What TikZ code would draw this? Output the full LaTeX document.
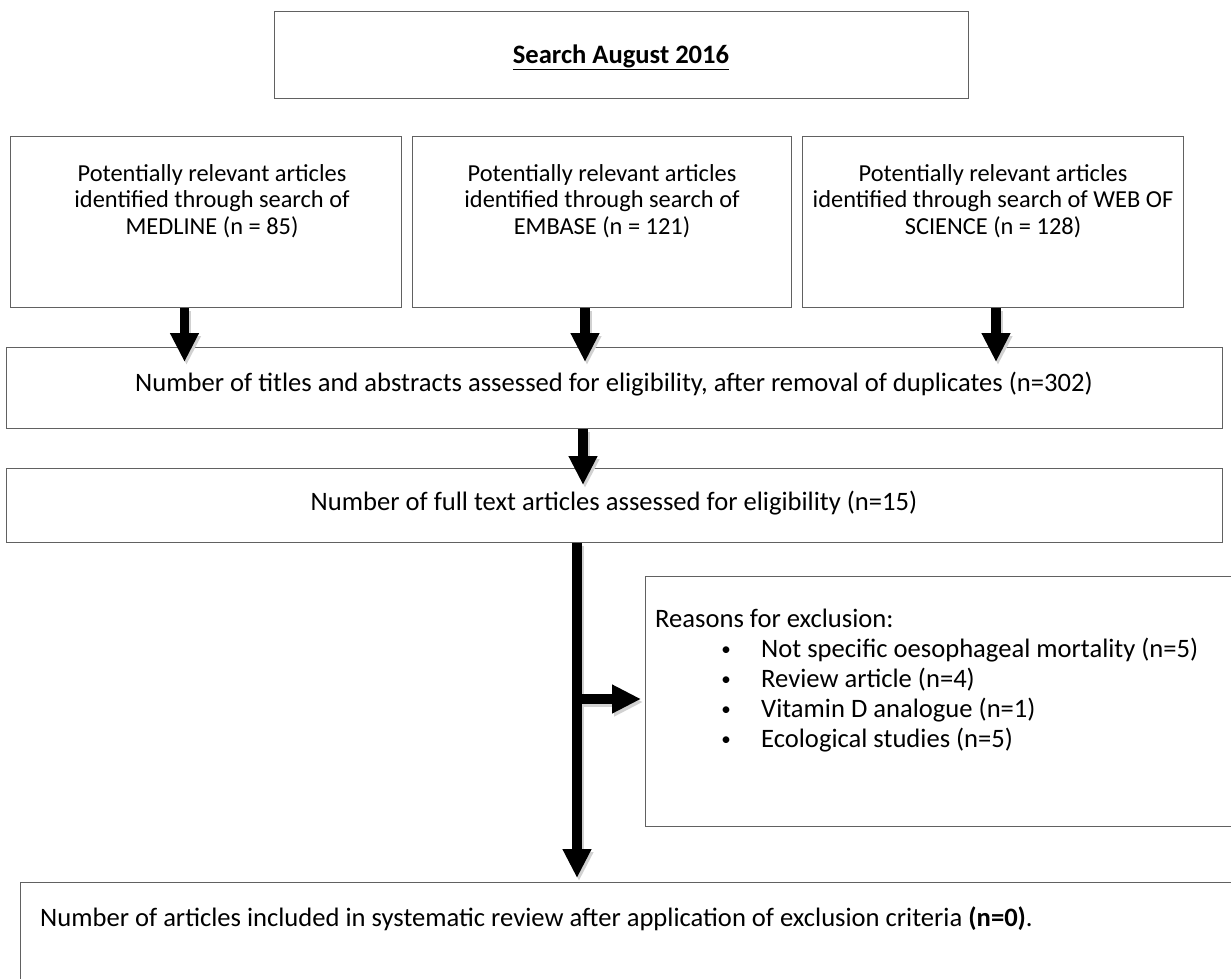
\documentclass[tikz,border=0pt]{standalone}
\usepackage{fontspec}
\setmainfont{Carlito}
\usetikzlibrary{arrows.meta}
\begin{document}
\begin{tikzpicture}[x=1pt,y=-1pt,
  box/.style={draw=black!62, line width=1.3pt, inner sep=0pt, anchor=north west},
  txt/.style={inner sep=0pt, font=\fontsize{26.6}{29}\selectfont},
  smalltxt/.style={inner sep=0pt, font=\fontsize{24.4}{26.7}\selectfont},
  bul/.style={inner sep=0pt, font=\fontsize{19}{20}\selectfont},
  bigarrow/.style={line width=9.5pt, -{Triangle[width=27pt,length=29pt]}, black},
  shadowarrow/.style={line width=9.5pt, -{Triangle[width=27pt,length=29pt]}, black!18},
]
\useasboundingbox (0,0) rectangle (1231,978);
\clip (0,0) rectangle (1231,978);
\fill[white] (0,0) rectangle (1231,978);

% boxes
\node[box, minimum width=694pt, minimum height=87pt] (top) at (274,11) {};
\node[box, minimum width=391pt, minimum height=171pt] (b1) at (10,136) {};
\node[box, minimum width=379pt, minimum height=171pt] (b2) at (412,136) {};
\node[box, minimum width=381pt, minimum height=171pt] (b3) at (802,136) {};
\node[box, minimum width=1216pt, minimum height=81pt] (titles) at (6,347) {};
\node[box, minimum width=1216pt, minimum height=74pt] (full) at (6,468) {};
\node[box, minimum width=700pt, minimum height=250pt] (reasons) at (645,576) {};
\node[box, minimum width=1300pt, minimum height=200pt] (final) at (20,882) {};

% texts
\node[txt, anchor=base] (ttop) at (621,63) {\underline{\textbf{Search August 2016}}};
\node[smalltxt, anchor=north, align=center] (t1) at (212,164) {Potentially relevant articles\\identified through search of\\MEDLINE (n = 85)};
\node[smalltxt, anchor=north, align=center] (t2) at (602,164) {Potentially relevant articles\\identified through search of\\EMBASE (n = 121)};
\node[smalltxt, anchor=north, align=center] (t3) at (993,164) {Potentially relevant articles\\identified through search of WEB OF\\SCIENCE (n = 128)};
\node[txt, anchor=base] (ttitles) at (614,391) {Number of titles and abstracts assessed for eligibility, after removal of duplicates (n=302)};
\node[txt, anchor=base] (tfull) at (614,510) {Number of full text articles assessed for eligibility (n=15)};
\node[txt, anchor=base west] (tr0) at (655,627) {Reasons for exclusion:};
\node[bul, anchor=base] (bu1) at (726,655) {•};
\node[bul, anchor=base] (bu2) at (726,685) {•};
\node[bul, anchor=base] (bu3) at (726,715) {•};
\node[bul, anchor=base] (bu4) at (726,745) {•};
\node[txt, anchor=base west] (tr1) at (761,657) {Not specific oesophageal mortality (n=5)};
\node[txt, anchor=base west] (tr2) at (761,687) {Review article (n=4)};
\node[txt, anchor=base west] (tr3) at (761,717) {Vitamin D analogue (n=1)};
\node[txt, anchor=base west] (tr4) at (761,747) {Ecological studies (n=5)};
\node[txt, anchor=base west] (tfinal) at (40,926) {Number of articles included in systematic review after application of exclusion criteria \textbf{(n=0)}.};

% arrow end points
\coordinate (e1) at (184.5,362);
\coordinate (e2) at (585,362);
\coordinate (e3) at (996,362);
\coordinate (e4) at (583,485);
\coordinate (e5) at (577,878);
\coordinate (j6) at (577,699);
\coordinate (e6) at (641,699);

% shadows
\foreach \s/\e in {b1/e1, b2/e2, b3/e3, titles/e4, full/e5}{
  \draw[shadowarrow] ([xshift=2pt,yshift=-3pt]\s.south -| \e) -- ([xshift=2pt,yshift=-3pt]\e);
}
\draw[shadowarrow] ([xshift=2pt,yshift=-3pt]j6) -- ([xshift=2pt,yshift=-3pt]e6);

% arrows
\draw[bigarrow] (b1.south -| e1) -- (e1);
\draw[bigarrow] (b2.south -| e2) -- (e2);
\draw[bigarrow] (b3.south -| e3) -- (e3);
\draw[bigarrow] (titles.south -| e4) -- (e4);
\draw[bigarrow] (full.south -| e5) -- (e5);
\draw[bigarrow] (j6) -- (e6);
\end{tikzpicture}
\end{document}
